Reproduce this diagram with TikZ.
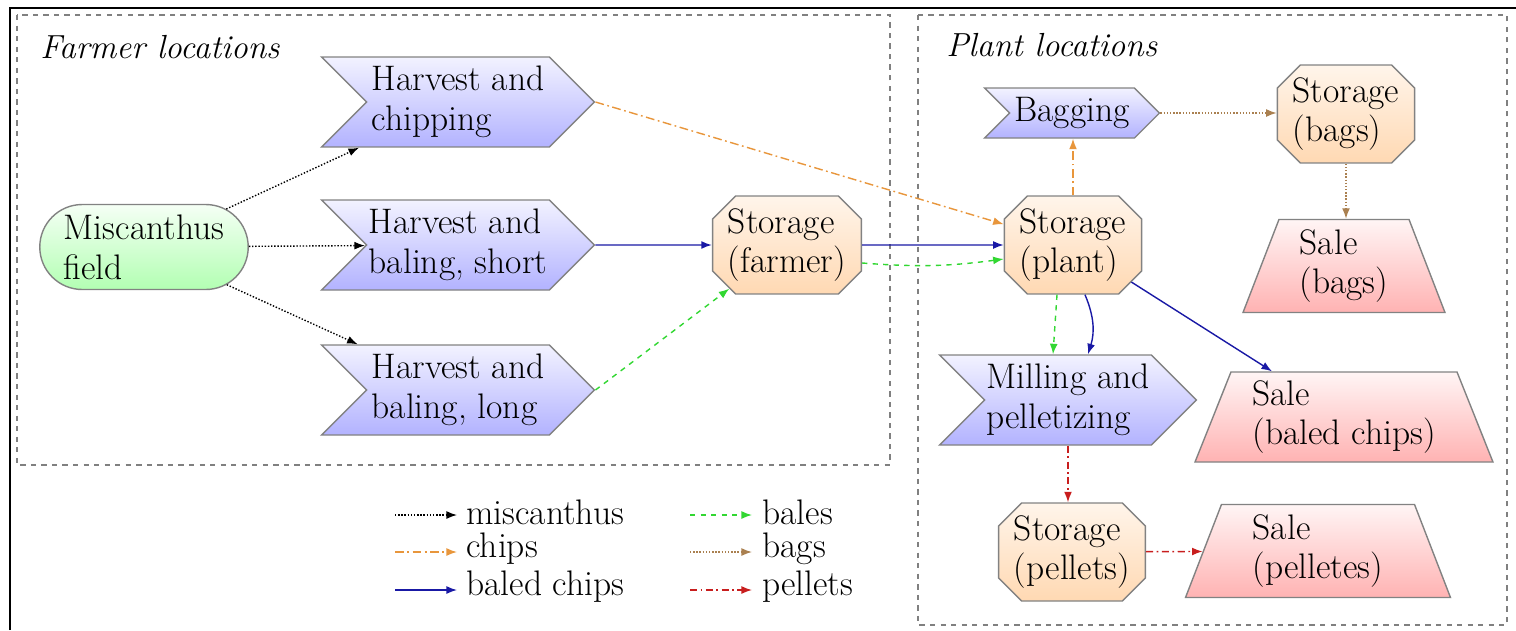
\documentclass[tikz,border=0pt]{standalone}
\usetikzlibrary{shapes.symbols,shapes.misc,shapes.geometric,arrows.meta}
\definecolor{chipsc}{RGB}{232,150,60}
\definecolor{baledc}{RGB}{25,25,165}
\definecolor{balesc}{RGB}{50,215,50}
\definecolor{bagsc}{RGB}{170,128,80}
\definecolor{pelc}{RGB}{200,30,30}
\definecolor{edgec}{RGB}{130,130,130}
\tikzset{
  base/.style={draw=edgec, line width=0.8pt, align=left, inner sep=1pt,
    font=\fontsize{20.2}{22.7}\selectfont},
  proc/.style={base, signal, signal to=east, signal from=west,
    top color=blue!5, bottom color=blue!30},
  store/.style={base, chamfered rectangle, chamfered rectangle xsep=0.36cm,
    inner xsep=-1.5pt, minimum height=1.96cm,
    top color=orange!8, bottom color=orange!30},
  sale/.style={base, trapezium, trapezium left angle=65, trapezium right angle=65,
    trapezium stretches body, top color=red!4, bottom color=red!30},
  field/.style={base, rounded rectangle, top color=green!4, bottom color=green!30},
  lbl/.style={font=\fontsize{20.2}{22.7}\selectfont, inner sep=0pt},
  ttl/.style={font=\fontsize{19}{22}\selectfont\itshape, inner sep=0pt},
  tip/.style={-{Latex[length=6pt,width=4.5pt]}},
  fmisc/.style={tip, black, line width=0.8pt, densely dotted},
  fchips/.style={tip, chipsc, line width=0.8pt, dash pattern=on 5pt off 2pt on 1pt off 2pt},
  fbaled/.style={tip, baledc, line width=0.8pt},
  fbales/.style={tip, balesc, line width=0.8pt, dashed},
  fbags/.style={tip, bagsc, line width=0.8pt, densely dotted},
  fpel/.style={tip, pelc, line width=0.8pt, dash pattern=on 4pt off 2pt on 1pt off 2pt},
  zone/.style={draw=gray, dashed, line width=0.6pt}
}
\begin{document}
\begin{tikzpicture}[x=0.02cm,y=-0.02cm]
\useasboundingbox (0,0) rectangle (1516,630);
\draw[line width=1.5pt] (10,630) -- (10,8) -- (1516,8);
\draw[zone] (17,15) rectangle (890,465);
\draw[zone] (918,15) rectangle (1507,625);
\node[ttl, anchor=west] (tfarm) at (40,47) {Farmer locations};
\node[ttl, anchor=west] (tplant) at (946,45) {Plant locations};

\node[field, minimum width=4.24cm, minimum height=1.7cm] (field) at (144,247) {Miscanthus\\field};
\node[proc, minimum width=5.46cm, minimum height=1.8cm] (chip) at (458,102) {Harvest and\\chipping};
\node[proc, minimum width=5.46cm, minimum height=1.8cm] (short) at (458,245) {Harvest and\\baling, short};
\node[proc, minimum width=5.46cm, minimum height=1.8cm] (long) at (458,390) {Harvest and\\baling, long};
\node[store] (farm) at (787,245) {Storage\\(farmer)};
\node[store] (plant) at (1073,245) {Storage\\(plant)};
\node[proc, minimum width=3.5cm, minimum height=1.0cm] (bag) at (1072,113) {Bagging};
\node[store] (sbag) at (1346,114) {Storage\\(bags)};
\node[sale, minimum width=4.04cm, minimum height=1.86cm] (salebag) at (1344,266) {Sale\\(bags)};
\node[proc, minimum width=5.1cm, minimum height=1.8cm] (mill) at (1068,400) {Milling and\\pelletizing};
\node[sale, minimum width=5.96cm, minimum height=1.8cm] (salechip) at (1344,417) {Sale\\(baled chips)};
\node[store] (pel) at (1072,552) {Storage\\(pellets)};
\node[sale, minimum width=5.3cm, minimum height=1.86cm] (salepel) at (1318,551) {Sale\\(pelletes)};

\draw[fmisc] (field) -- (chip);
\draw[fmisc] (field) -- (short);
\draw[fmisc] (field) -- (long);
\draw[fchips] (chip.east) -- (plant);
\draw[fbaled] (short) -- (farm);
\draw[fbales] (long.east) -- (farm);
\draw[fbaled] (farm) -- (plant);
\draw[fbales] ([yshift=-0.36cm]farm.east) to[bend right=6] ([yshift=-0.28cm]plant.west);
\draw[fchips] (plant.north) -- (plant.north |- bag.south);
\draw[fbags] (bag.east) -- (bag.east -| sbag.west);
\draw[fbags] (sbag.south) -- (sbag.south |- salebag.north);
\draw[fbales] ([xshift=-0.32cm]plant.south) -- ([xshift=-0.3cm]mill.north);
\draw[fbaled] ([xshift=0.24cm]plant.south) to[bend left=20] ([xshift=0.4cm]mill.north);
\draw[fbaled] (plant) -- (salechip);
\draw[fpel] (mill.south) -- (mill.south |- pel.north);
\draw[fpel] (pel) -- (salepel);

% legend
\coordinate (l1a) at (395,515); \coordinate (l1b) at (457,515);
\coordinate (l2a) at (395,552); \coordinate (l2b) at (457,552);
\coordinate (l3a) at (395,590); \coordinate (l3b) at (457,590);
\coordinate (l4a) at (690,515); \coordinate (l4b) at (752,515);
\coordinate (l5a) at (690,552); \coordinate (l5b) at (752,552);
\coordinate (l6a) at (690,590); \coordinate (l6b) at (752,590);
\draw[fmisc] (l1a) -- (l1b);
\draw[fchips] (l2a) -- (l2b);
\draw[fbaled] (l3a) -- (l3b);
\draw[fbales] (l4a) -- (l4b);
\draw[fbags] (l5a) -- (l5b);
\draw[fpel] (l6a) -- (l6b);
\node[lbl, anchor=west] (t1) at (466,512) {miscanthus};
\node[lbl, anchor=west] (t2) at (466,549) {chips};
\node[lbl, anchor=west] (t3) at (466,587) {baled chips};
\node[lbl, anchor=west] (t4) at (762,512) {bales};
\node[lbl, anchor=west] (t5) at (762,549) {bags};
\node[lbl, anchor=west] (t6) at (762,587) {pellets};
\end{tikzpicture}
\end{document}
